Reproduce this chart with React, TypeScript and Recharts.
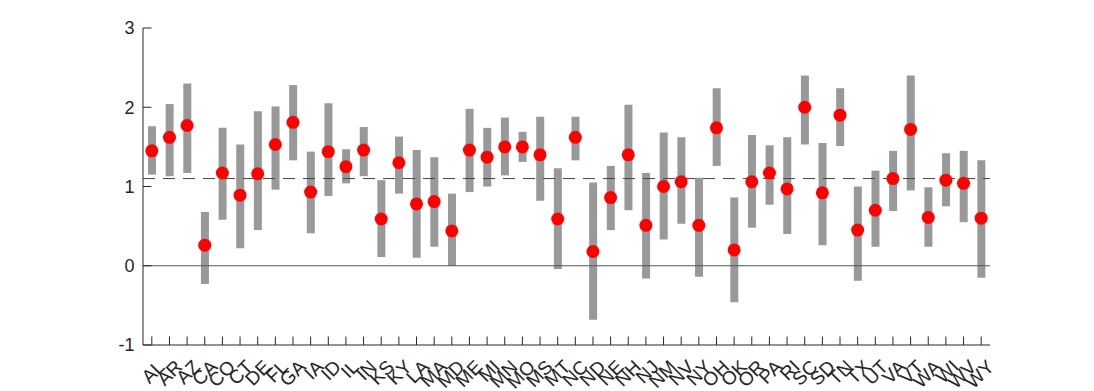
import React from 'react';
import { ComposedChart, Bar, Scatter, XAxis, YAxis, ReferenceLine } from 'recharts';

const states = ['AL','AR','AZ','CA','CO','CT','DE','FL','GA','IA','ID','IL','IN','KS','KY','LA','MA','MD','ME','MI','MN','MO','MS','MT','NC','ND','NE','NH','NJ','NM','NV','NY','OH','OK','OR','PA','RI','SC','SD','TN','TX','UT','VA','VT','WA','WI','WV','WY'];
const means = [1.45,1.62,1.77,0.26,1.17,0.89,1.16,1.53,1.81,0.93,1.44,1.25,1.46,0.59,1.30,0.78,0.81,0.44,1.46,1.37,1.50,1.50,1.40,0.59,1.62,0.18,0.86,1.40,0.51,1.00,1.06,0.51,1.74,0.20,1.06,1.17,0.97,2.00,0.92,1.90,0.45,0.70,1.10,1.72,0.61,1.08,1.04,0.60];
const upper = [1.76,2.04,2.30,0.68,1.74,1.53,1.95,2.01,2.28,1.44,2.05,1.47,1.75,1.08,1.63,1.46,1.37,0.91,1.98,1.74,1.87,1.69,1.88,1.23,1.88,1.05,1.26,2.03,1.17,1.68,1.62,1.11,2.24,0.86,1.65,1.52,1.62,2.40,1.55,2.24,1.00,1.20,1.45,2.40,0.99,1.42,1.45,1.33];
const lower = [1.15,1.13,1.17,-0.23,0.58,0.22,0.45,0.96,1.33,0.41,0.88,1.04,1.13,0.11,0.91,0.10,0.24,0.00,0.93,1.00,1.14,1.31,0.82,-0.04,1.33,-0.68,0.45,0.70,-0.16,0.33,0.53,-0.14,1.26,-0.46,0.48,0.77,0.40,1.53,0.26,1.51,-0.19,0.24,0.69,0.95,0.24,0.75,0.55,-0.15];
const yTicks = [-1, 0, 1, 2, 3];
const referenceValue = 1.1;

const data = states.map((s, i) => ({ state: s, mean: means[i], range: [lower[i], upper[i]] }));

const FONT = '"Liberation Sans", Arial, sans-serif';
const AX = '#262626';

const XTick = (props: any) => {
  const { x, y, payload } = props;
  const ax = x + 14;
  const ay = y + 23;
  return (
    <g>
      <line x1={x} y1={y} x2={x} y2={y - 8.5} stroke={AX} strokeWidth={1} />
      <text
        x={ax}
        y={ay}
        transform={`rotate(-45 ${ax} ${ay})`}
        textAnchor="end"
        fontSize={19}
        fontFamily={FONT}
        fill={AX}
      >
        {payload.value}
      </text>
    </g>
  );
};

const YTick = (props: any) => {
  const { x, y, payload } = props;
  return (
    <g>
      <line x1={x} y1={y} x2={x + 8.5} y2={y} stroke={AX} strokeWidth={1} />
      <text x={x - 8.5} y={y} dy="0.36em" textAnchor="end" fontSize={18} fontFamily={FONT} fill={AX}>
        {payload.value}
      </text>
    </g>
  );
};

const Dot = (props: any) => {
  const { cx, cy } = props;
  return <circle cx={cx} cy={cy} r={6.5} fill="#ff0000" />;
};

export default function App() {
  return (
    <div style={{ position: 'absolute', left: 0, top: 0, background: '#fff' }}>
      <ComposedChart
        width={1094}
        height={391}
        data={data}
        margin={{ top: 28, right: 104, bottom: 6, left: 83 }}
      >
        <XAxis
          dataKey="state"
          type="category"
          interval={0}
          height={40}
          tickSize={0}
          tickMargin={0}
          tickLine={false}
          axisLine={{ stroke: AX }}
          tick={<XTick />}
        />
        <YAxis
          type="number"
          domain={[-1, 3]}
          ticks={yTicks}
          width={60}
          tickSize={0}
          tickMargin={0}
          tickLine={false}
          axisLine={{ stroke: AX }}
          tick={<YTick />}
          allowDataOverflow
        />
        <ReferenceLine y={0} stroke="#555555" strokeWidth={1} />
        <ReferenceLine y={referenceValue} stroke="#444444" strokeWidth={1} strokeDasharray="12 8" />
        <Bar dataKey="range" barSize={8} fill="#999999" isAnimationActive={false} />
        <Scatter dataKey="mean" shape={<Dot />} isAnimationActive={false} />
      </ComposedChart>
    </div>
  );
}
